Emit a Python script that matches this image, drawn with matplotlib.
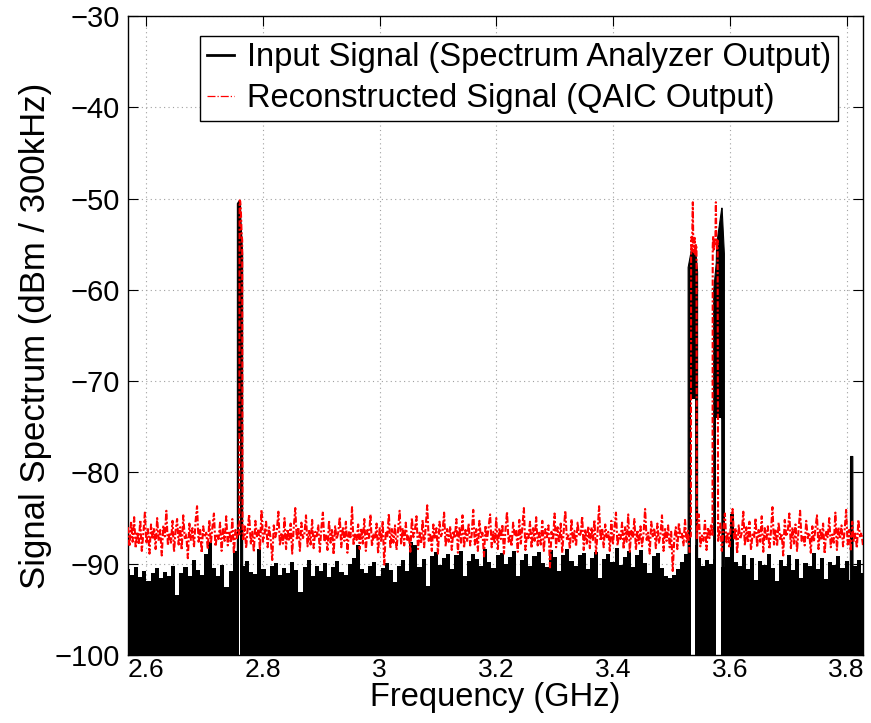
import numpy as np
import matplotlib
matplotlib.use("Agg")
import matplotlib.pyplot as plt

plt.rcParams['font.family'] = ['Liberation Sans', 'DejaVu Sans']

# frequency span of the sweep (GHz)
f_start, f_stop = 2.569, 3.828

# spectrum analyzer noise floor, top of the trace (dBm), evenly spaced over the sweep
black_top = [
    -90.6, -91.2, -90.4, -91.5, -90.8, -91.9, -91.0, -90.5, -91.6, -90.9,
    -91.3, -90.2, -93.4, -91.0, -90.4, -91.4, -89.6, -90.7, -91.2, -88.9,
    -87.6, -90.5, -91.3, -90.1, -92.6, -90.8, -88.6, -90.0, -90.2, -89.7,
    -90.9, -91.1, -88.4, -90.6, -91.4, -90.3, -89.9, -91.2, -90.5, -91.0,
    -89.8, -90.7, -93.1, -90.4, -89.6, -91.3, -90.2, -90.8, -89.9, -91.5,
    -90.4, -89.7, -90.9, -91.2, -90.0, -89.4, -87.9, -90.6, -91.0, -90.3,
    -89.8, -91.4, -90.5, -89.9, -90.7, -92.0, -90.2, -89.6, -90.8, -87.6,
    -87.9, -90.4, -89.5, -92.4, -89.2, -88.7, -90.1, -89.4, -88.9, -90.6,
    -89.0, -88.6, -91.3, -89.7, -88.9, -89.5, -90.2, -88.4, -89.8, -90.5,
    -89.1, -88.8, -90.0, -89.3, -88.6, -91.3, -89.6, -88.9, -90.3, -89.2,
    -88.7, -89.9, -90.4, -88.5, -89.3, -90.8, -89.0, -88.4, -89.7, -90.2,
    -89.1, -88.8, -90.6, -89.4, -88.7, -91.6, -89.5, -88.9, -89.8, -88.3,
    -90.1, -89.3, -88.6, -90.4, -89.0, -88.5, -89.9, -91.0, -89.2, -88.8,
    -90.5, -91.3, -91.6, -91.2, -90.6, -89.8, -88.9, -88.3, -88.0, -89.4,
    -90.2, -89.6, -90.0, -89.5, -89.8, -90.4, -89.3, -84.6, -89.8, -90.3,
    -89.1, -90.6, -89.4, -91.8, -89.7, -90.1, -88.9, -90.5, -91.9, -89.6,
    -90.2, -89.0, -90.7, -89.5, -91.6, -89.9, -90.3, -88.8, -90.6, -89.4,
    -91.7, -89.8, -90.1, -89.2, -90.5, -89.7, -91.8, -90.3, -89.6, -91.0,
]

# input signal bands: frequency, upper and lower edge of the trace (dBm)
band_freqs = [
    [2.7555, 2.7585, 2.7590, 2.7608, 2.7613, 2.7645],
    [3.5276, 3.5320, 3.5326, 3.5404, 3.5410, 3.5438],
    [3.5714, 3.5758, 3.5764, 3.5852, 3.5858, 3.5897],
    [3.8055, 3.8058, 3.8097, 3.8100],
]
band_hi = [
    [-50.5, -50.2, -50.2, -50.4, -52.0, -56.0],
    [-57.5, -56.0, -55.7, -55.6, -55.9, -58.0],
    [-60.0, -57.0, -55.0, -51.0, -51.0, -56.0],
    [-89.0, -78.2, -78.2, -89.0],
]
band_lo = [
    [-100, -100, -76, -76, -100, -100],
    [-100, -100, -72, -72, -100, -100],
    [-100, -100, -74, -74, -100, -100],
    [-100, -100, -100, -100],
]

# QAIC reconstruction, noise part (dBm), evenly spaced; nan where the tones sit
nan = np.nan
red_noise = [
    -86.0, -88.1, -85.4, -87.6, -84.9, -88.3, -86.5, -87.9, -85.2, -88.6,
    -86.7, -84.4, -87.8, -86.2, -88.9, -85.7, -87.3, -86.1, -88.4, -85.0,
    -87.5, -86.3, -89.1, -85.8, -87.0, -84.2, -88.0, -86.6, -87.7, -85.3,
    -88.7, -86.4, -85.1, -87.9, -86.0, -88.5, -84.7, -87.2, -86.8, -89.4,
    -85.6, -87.4, -86.1, -88.2, -85.4, -83.7, -87.6, -86.3, -88.8, -85.9,
    -87.1, -86.6, -88.4, -85.2, -87.8, -86.0, -84.5, -88.1, -86.9, -87.3,
    -85.5, -88.6, -86.2, -87.5, -84.8, -88.0, -86.4, -87.7, -85.1, -88.9,
    -86.3, -87.2, -85.7, nan, nan, -87.4, -85.9, -88.3, -86.1, -84.6,
    -87.9, -86.5, -88.7, -85.3, -87.0, -86.2, -88.5, -84.1, -87.6, -86.8,
    -85.4, -88.2, -86.0, -87.3, -89.6, -85.8, -87.1, -86.4, -84.3, -88.0,
    -86.6, -87.8, -85.0, -88.4, -86.2, -87.5, -85.6, -88.9, -86.1, -83.9,
    -87.4, -86.0, -88.6, -85.5, -87.2, -86.7, -84.7, -88.1, -86.3, -87.9,
    -85.2, -88.3, -86.5, -87.0, -85.8, -88.7, -86.1, -84.4, -87.6, -86.9,
    -88.5, -85.3, -87.7, -86.2, -89.0, -85.9, -87.3, -86.6, -84.9, -88.2,
    -86.0, -87.5, -85.4, -88.8, -86.4, -87.1, -83.8, -88.0, -86.7, -87.4,
    -85.7, -88.4, -86.1, -87.8, -85.1, -88.6, -86.3, -87.2, -84.6, -88.1,
    -86.8, -87.3, -85.6, -88.9, -86.0, -87.6, -85.3, -90.1, -86.5, -87.0,
    -84.5, -88.3, -86.2, -87.7, -85.8, -88.5, -86.4, -84.2, -87.9, -86.1,
    -88.0, -85.5, -87.4, -86.9, -88.7, -85.0, -87.1, -86.3, -84.8, -88.4,
    -86.6, -87.8, -85.2, -88.2, -86.0, -83.6, -87.5, -86.7, -88.6, -85.7,
    -87.3, -86.1, -88.9, -85.4, -87.0, -86.5, -84.4, -88.1, -86.2, -87.6,
    -85.9, -88.5, -86.4, -87.2, -85.1, -88.8, -86.0, -87.7, -84.7, -88.3,
    -86.3, -87.5, -85.6, -88.0, -86.8, -84.1, -87.9, -86.2, -88.6, -85.3,
    -87.1, -86.6, -89.2, -85.8, -87.4, -86.0, -84.6, -88.2, -86.5, -87.8,
    -85.0, -88.4, -86.1, -87.3, -85.7, -88.9, -86.3, -84.3, -87.6, -86.8,
    -88.1, -85.5, -87.0, -86.4, -88.7, -85.2, -87.8, -86.0, -83.9, -88.5,
    -86.7, -87.2, -85.4, -88.3, -86.1, -87.5, -84.9, -88.0, -86.6, -87.9,
    -85.3, -88.6, -86.2, -87.1, -85.8, -90.4, -86.5, -87.4, -84.5, -88.2,
    -86.0, -87.7, -85.6, -88.8, -86.3, -84.2, -87.3, -86.9, -88.4, -85.1,
    -87.6, -86.4, -88.1, -85.5, -87.0, -86.7, -84.8, -88.5, -86.2, -87.8,
    -85.9, -88.3, -86.0, -87.4, -85.2, -88.9, -86.6, -83.7, -87.5, -86.1,
    -88.2, -85.7, -87.1, -86.5, -88.6, -85.3, -87.9, -86.2, -84.4, -88.0,
    -86.8, -87.3, -85.5, -88.4, -86.0, -87.6, -84.6, -88.7, -86.4, -87.2,
    -85.1, -88.5, -86.3, -87.8, -85.9, -88.1, -86.7, -84.0, -87.4, -86.6,
    -88.9, -85.4, -87.0, -86.1, -88.3, -85.6, -87.7, -86.8, -84.7, -88.6,
    -86.2, -87.5, -85.8, -88.2, -86.5, -90.8, -87.3, -86.0, -88.4, -85.5,
    -87.1, -86.7, -88.0, -85.2, -87.6, -86.4, -88.8, nan, nan, nan,
    nan, -86.3, -84.6, -88.1, -86.9, -87.5, -85.3, -88.5, -86.0, -87.2,
    -85.7, nan, nan, nan, nan, -87.0, -85.6, -88.6, -86.2, -84.5,
    -87.8, -86.5, -88.3, -85.1, -84.0, -87.4, -86.1, -88.9, -85.8, -87.3,
    -86.6, -84.3, -88.0, -86.0, -87.7, -85.4, -88.5, -86.8, -87.1, -85.0,
    -88.2, -86.3, -87.6, -84.8, -88.7, -86.1, -87.4, -85.9, -88.4, -86.5,
    -83.8, -87.9, -86.2, -88.1, -85.5, -87.3, -86.7, -89.1, -85.2, -87.0,
    -86.4, -84.5, -88.3, -86.0, -87.8, -85.7, -88.6, -86.3, -84.2, -87.5,
    -86.9, -88.0, -85.3, -87.2, -86.6, -88.8, -85.9, -87.6, -86.1, -84.7,
    -88.4, -86.2, -87.4, -85.6, -88.9, -86.5, -87.1, -85.0, -88.2, -86.8,
    -87.7, -84.4, -88.5, -86.0, -87.3, -85.8, -88.1, -86.4, -84.1, -87.9,
    -86.3, -88.6, -85.4, -87.5, -86.7, -88.3, -85.2, -87.0, -86.6, -88.0,
]

# QAIC reconstruction around the three tones
red_peak_freqs = [
    [2.7583, 2.7598, 2.7602, 2.7612, 2.7624, 2.7636, 2.7646, 2.7652, 2.7661],
    [3.5310, 3.5332, 3.5336, 3.5342, 3.5350, 3.5365, 3.5372, 3.5384, 3.5396,
     3.5408, 3.5420, 3.5428, 3.5434, 3.5442],
    [3.5678, 3.5702, 3.5706, 3.5714, 3.5722, 3.5732, 3.5742, 3.5752, 3.5760,
     3.5768, 3.5778, 3.5790, 3.5798, 3.5810],
]
red_peak_db = [
    [-86.3, -86.8, -50.2, -50.3, -51.5, -53.8, -54.6, -86.5, -87.4],
    [-87.1, -87.0, -56.3, -54.2, -55.8, -50.4, -54.6, -55.9, -54.3,
     -56.1, -55.0, -55.4, -87.2, -86.3],
    [-85.7, -87.0, -55.2, -54.1, -55.6, -54.4, -55.0, -54.2, -50.4,
     -54.8, -55.5, -54.6, -87.5, -87.0],
]

x_ticks = [2.6, 2.8, 3.0, 3.2, 3.4, 3.6, 3.8]
x_tick_labels = ['2.6', '2.8', '3', '3.2', '3.4', '3.6', '3.8']
y_ticks = [-100, -90, -80, -70, -60, -50, -40, -30]

fig = plt.figure(figsize=(8.71, 7.23), dpi=100)
ax = fig.add_axes([128 / 871, 68 / 723, 735 / 871, 639 / 723])

f_black = np.linspace(f_start, f_stop, len(black_top))
ax.fill_between(f_black, -110, black_top, step='mid', color='black', lw=0, zorder=2)

for bf, bh, bl in zip(band_freqs, band_hi, band_lo):
    bl = np.array(bl, dtype=float)
    ax.fill_between(bf, bl, bh, color='black', lw=0.8, edgecolor='black', zorder=2.1)
    ax.fill_between(bf, -110, bl, where=bl > -100, color='white', lw=0, zorder=2.2)

red_dash = (0, (3, 1, 1, 1))
f_red = np.linspace(f_start, f_stop, len(red_noise))
ax.plot(f_red, red_noise, color='red', ls=red_dash, lw=1.5, zorder=3)
for pf, pdb in zip(red_peak_freqs, red_peak_db):
    ax.plot(pf, pdb, color='red', ls=red_dash, lw=1.5, zorder=3)

ax.set_xlim(f_start, f_stop)
ax.set_ylim(-100, -30)
ax.set_xticks(x_ticks)
ax.set_xticklabels(x_tick_labels)
ax.set_yticks(y_ticks)
ax.tick_params(direction='in', length=7, width=0.8, top=True, right=True)
ax.tick_params(axis='y', labelsize=21, pad=6)
ax.tick_params(axis='x', labelsize=19, pad=2)
ax.grid(True, color='#a0a0a0', ls=(0, (1, 3)), lw=0.8, zorder=0)
ax.set_axisbelow(True)
for s in ax.spines.values():
    s.set_linewidth(1.0)

ax.set_xlabel('Frequency (GHz)', fontsize=23.5, labelpad=0)
ax.set_ylabel('Signal Spectrum (dBm / 300kHz)', fontsize=25, labelpad=2)

h1, = ax.plot([], [], color='black', lw=2)
h2, = ax.plot([], [], color='red', ls='-.', lw=0.9)
leg = ax.legend([h1, h2],
                ['Input Signal (Spectrum Analyzer Output)',
                 'Reconstructed Signal (QAIC Output)'],
                loc='upper right', bbox_to_anchor=(0.966, 0.969),
                fontsize=23.5, fancybox=False, framealpha=1, edgecolor='black',
                handlelength=0.85, handletextpad=0.4, borderpad=0.2,
                labelspacing=0.3, borderaxespad=0)
leg.get_frame().set_linewidth(1.0)

fig.savefig('out.png', dpi=100)
